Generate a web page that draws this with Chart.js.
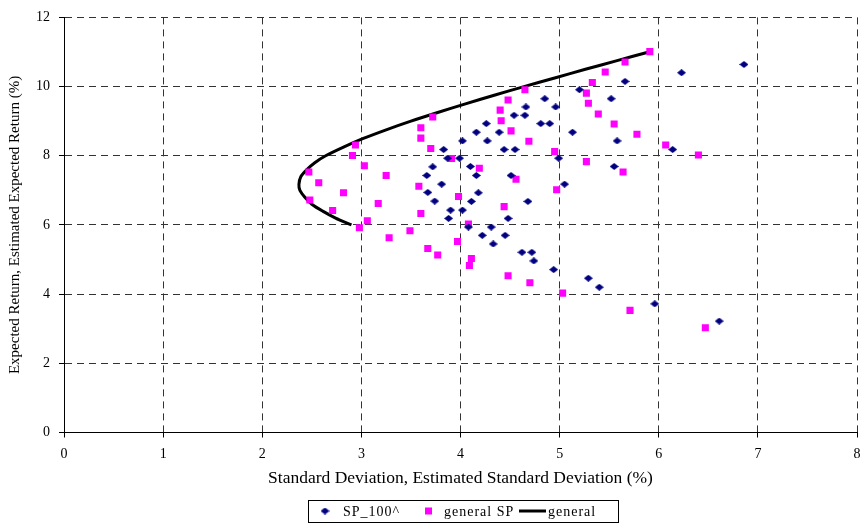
<!DOCTYPE html>
<html>
<head>
<meta charset="utf-8">
<title>Expected Return vs Standard Deviation</title>
<script src="https://cdn.jsdelivr.net/npm/chart.js@4/dist/chart.umd.min.js"></script>
<style>
  html, body { margin: 0; padding: 0; background: #ffffff; }
  #wrap { width: 862px; height: 523px; }
</style>
</head>
<body>
<div id="wrap"><canvas id="chart" width="862" height="523"></canvas></div>
<script>
// ---- data -------------------------------------------------------------
// SP_100^ : standard deviation (%) and expected return (%)
const sp100Sd = [6.86, 6.23, 5.66, 5.20, 5.52, 4.85, 4.96, 4.66, 4.54, 4.65,
                 4.26, 4.81, 4.90, 4.16, 4.39, 5.13, 4.02, 4.27, 5.58, 3.83,
                 4.44, 4.55, 6.14, 3.87, 3.99, 4.99, 3.72, 4.10, 5.55, 3.66,
                 4.16, 4.51, 3.81, 5.05, 3.67, 4.18, 3.74, 4.11, 4.68, 3.90,
                 4.02, 3.88, 4.48, 4.08, 4.31, 4.22, 4.45, 4.33, 4.62, 4.72,
                 4.74, 4.94, 5.29, 5.40, 5.96, 6.61];
const sp100Ret = [10.64, 10.40, 10.15, 9.91, 9.65, 9.65, 9.41, 9.41, 9.17, 9.17,
                  8.93, 8.93, 8.93, 8.68, 8.68, 8.68, 8.43, 8.43, 8.43, 8.18,
                  8.18, 8.18, 8.18, 7.93, 7.93, 7.93, 7.68, 7.69, 7.69, 7.43,
                  7.43, 7.43, 7.18, 7.18, 6.94, 6.93, 6.69, 6.68, 6.68, 6.43,
                  6.43, 6.19, 6.19, 5.94, 5.94, 5.70, 5.70, 5.45, 5.21, 5.21,
                  4.96, 4.71, 4.46, 4.20, 3.72, 3.22];

// general SP : estimated standard deviation (%) and estimated expected return (%)
const generalSpSd = [5.91, 5.66, 5.46, 5.33, 4.65, 5.27, 4.48, 5.29, 4.40, 5.39,
                     3.72, 4.41, 5.55, 3.60, 4.51, 5.78, 3.60, 4.69, 2.94, 6.07,
                     3.70, 4.95, 2.91, 6.40, 3.91, 5.27, 3.03, 4.19, 2.47, 5.64,
                     3.25, 4.56, 2.57, 3.58, 4.97, 2.82, 3.98, 2.48, 3.17, 4.44,
                     2.71, 3.60, 3.06, 4.08, 2.98, 3.49, 3.28, 3.97, 3.67, 3.77,
                     4.11, 4.09, 4.48, 4.70, 5.03, 5.71, 6.47];
const generalSpRet = [11.01, 10.71, 10.42, 10.12, 9.91, 9.81, 9.61, 9.52, 9.32, 9.21,
                      9.12, 9.01, 8.92, 8.81, 8.72, 8.62, 8.51, 8.42, 8.31, 8.31,
                      8.21, 8.12, 8.01, 8.02, 7.92, 7.83, 7.71, 7.64, 7.53, 7.53,
                      7.43, 7.32, 7.22, 7.12, 7.02, 6.93, 6.82, 6.72, 6.62, 6.53,
                      6.42, 6.33, 6.12, 6.03, 5.92, 5.83, 5.63, 5.52, 5.32, 5.13,
                      5.03, 4.83, 4.53, 4.33, 4.03, 3.53, 3.03];

// general : efficient frontier, from its lower end round to the top
const frontierSd  = [2.90, 2.74, 2.61, 2.50, 2.43, 2.38, 2.37, 2.39, 2.45, 2.53,
                     2.64, 2.82, 3.02, 3.25, 3.50, 3.77, 4.05, 4.34, 4.64, 4.95,
                     5.26, 5.58, 5.90];
const frontierRet = [6.00, 6.20, 6.40, 6.60, 6.80, 7.00, 7.17, 7.40, 7.60, 7.80,
                     8.00, 8.25, 8.50, 8.75, 9.00, 9.25, 9.50, 9.75, 10.00, 10.25,
                     10.50, 10.75, 11.00];

const xTickValues = [0, 1, 2, 3, 4, 5, 6, 7, 8];
const yTickValues = [0, 2, 4, 6, 8, 10, 12];

const seriesNames = ['SP_100^', 'general SP', 'general'];
const xTitle = 'Standard Deviation, Estimated Standard Deviation (%)';
const yTitle = 'Expected Return, Estimated Expected Return (%)';

// ---- styling ------------------------------------------------------------
const SERIF = "'Liberation Serif', 'Times New Roman', serif";
const NAVY = '#000080';
const MAGENTA = '#ff00ff';

function zip(xs, ys) { return xs.map((x, i) => ({ x: x, y: ys[i] })); }

// a flat diamond marker (wider than tall)
function makeDiamond(w, h, color) {
  const c = document.createElement('canvas');
  c.width = w; c.height = h;
  const g = c.getContext('2d');
  g.fillStyle = color;
  g.beginPath();
  g.moveTo(w / 2, 0); g.lineTo(w, h / 2); g.lineTo(w / 2, h); g.lineTo(0, h / 2);
  g.closePath(); g.fill();
  return c;
}
const diamond = makeDiamond(9, 7, NAVY);

// boxed legend drawn below the plot
const boxedLegend = {
  id: 'boxedLegend',
  afterDraw(chart) {
    const ctx = chart.ctx;
    const top = 500, h = 22, left = 308, right = 618;
    const cy = top + h / 2;
    ctx.save();
    ctx.strokeStyle = '#000';
    ctx.lineWidth = 1;
    ctx.strokeRect(left + 0.5, top + 0.5, right - left, h);
    ctx.font = '14px ' + SERIF;
    ctx.fillStyle = '#000';
    ctx.textBaseline = 'middle';
    ctx.textAlign = 'left';
    try { ctx.letterSpacing = '1px'; } catch (e) {}
    const ds = chart.data.datasets;
    // SP_100^
    ctx.drawImage(diamond, 325 - 4.5, cy - 3.5, 9, 7);
    ctx.fillText(ds[0].label, 343, cy + 1);
    // general SP
    ctx.fillStyle = MAGENTA;
    ctx.fillRect(425, cy - 3.5, 7, 7);
    ctx.fillStyle = '#000';
    ctx.fillText(ds[1].label, 444, cy + 1);
    // general
    ctx.strokeStyle = '#000';
    ctx.lineWidth = 3;
    ctx.beginPath();
    ctx.moveTo(519, cy); ctx.lineTo(546, cy);
    ctx.stroke();
    ctx.fillText(ds[2].label, 548, cy + 1);
    ctx.restore();
  }
};

const gridCommon = {
  color: '#333333',
  lineWidth: 1,
  drawTicks: true,
  tickLength: 5,
  tickColor: '#000000',
  tickWidth: 1
};

new Chart(document.getElementById('chart'), {
  type: 'scatter',
  data: {
    datasets: [
      {
        label: seriesNames[0],
        data: zip(sp100Sd, sp100Ret),
        pointStyle: diamond,
        pointRadius: 4,
        backgroundColor: NAVY,
        borderColor: NAVY,
        borderWidth: 0,
        showLine: false
      },
      {
        label: seriesNames[1],
        data: zip(generalSpSd, generalSpRet),
        pointStyle: 'rect',
        pointRadius: 5,
        backgroundColor: MAGENTA,
        borderColor: MAGENTA,
        borderWidth: 0,
        showLine: false
      },
      {
        label: seriesNames[2],
        data: zip(frontierSd, frontierRet),
        showLine: true,
        borderColor: '#000000',
        borderWidth: 3,
        pointRadius: 0,
        tension: 0.3,
        fill: false
      }
    ]
  },
  options: {
    responsive: false,
    animation: false,
    events: [],
    layout: { padding: { top: 14, right: 2, bottom: 0, left: 0 } },
    plugins: {
      legend: { display: false },
      tooltip: { enabled: false },
      title: { display: false }
    },
    scales: {
      x: {
        type: 'linear',
        position: 'bottom',
        min: 0,
        max: 8,
        afterBuildTicks: s => { s.ticks = xTickValues.map(v => ({ value: v })); },
        afterFit: s => { s.height = 90.5; s.paddingRight = 2; },
        grid: gridCommon,
        border: { display: true, color: '#000000', width: 1, dash: [7, 5] },
        ticks: {
          font: { family: SERIF, size: 14 },
          color: '#000000',
          padding: 8,
          maxRotation: 0,
          autoSkip: false
        },
        title: {
          display: true,
          text: xTitle,
          color: '#000000',
          font: { family: SERIF, size: 17.5 },
          padding: { top: 0, bottom: 34 }
        }
      },
      y: {
        type: 'linear',
        position: 'left',
        min: 0,
        max: 12,
        afterBuildTicks: s => { s.ticks = yTickValues.map(v => ({ value: v })); },
        afterFit: s => { s.width = 64; },
        grid: gridCommon,
        border: { display: true, color: '#000000', width: 1, dash: [7, 5] },
        ticks: {
          font: { family: SERIF, size: 14 },
          color: '#000000',
          padding: 9,
          autoSkip: false
        },
        title: {
          display: true,
          text: yTitle,
          color: '#000000',
          font: { family: SERIF, size: 15 },
          padding: { top: 6, bottom: 0 }
        }
      }
    }
  },
  plugins: [boxedLegend]
});
</script>
</body>
</html>
